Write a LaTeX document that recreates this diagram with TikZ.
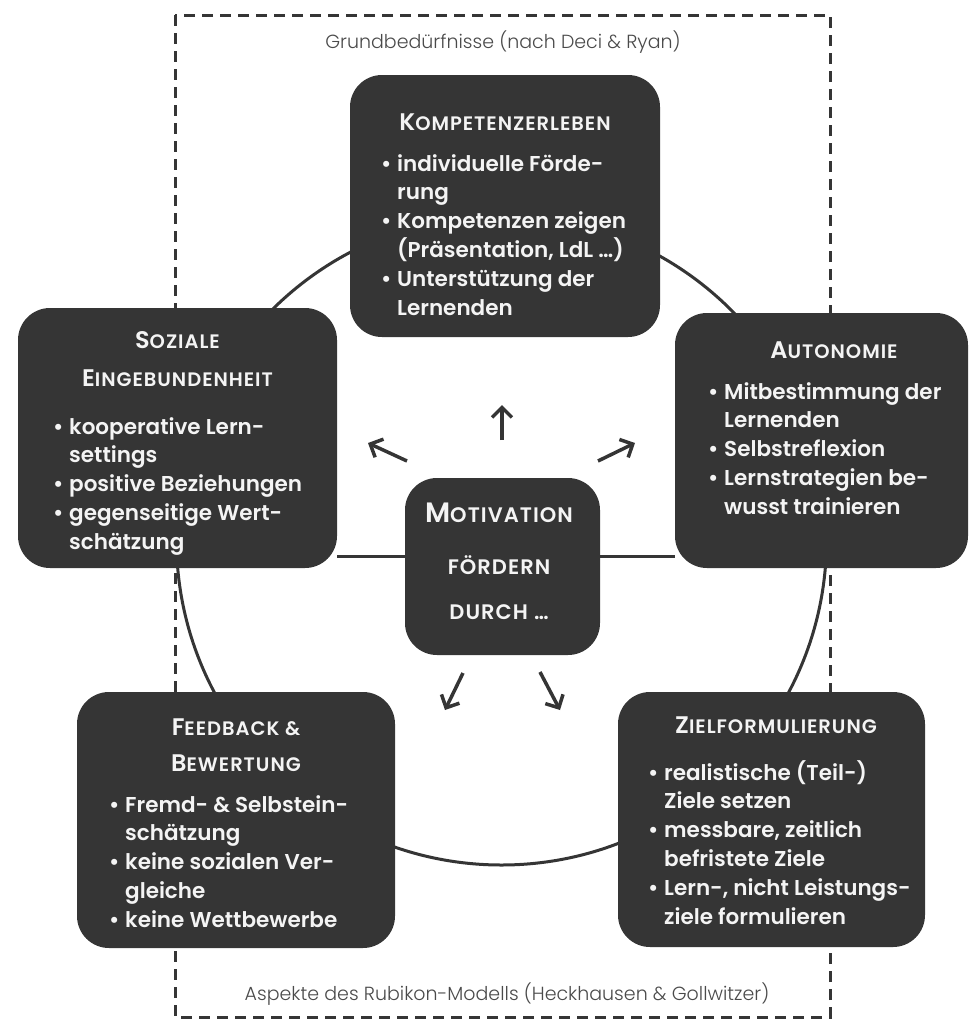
\documentclass[tikz,border=0pt]{standalone}
\usepackage{fontspec}
\setmainfont{Poppins}
\newfontfamily\cardfont{Poppins}[UprightFont=* SemiBold]
\newfontfamily\headfont{Poppins}[UprightFont=* SemiBold, LetterSpace=5]
\newfontfamily\capfont{Poppins}[UprightFont=* Light]
\usetikzlibrary{arrows.meta}
\definecolor{dunkel}{HTML}{353535}
\definecolor{hell}{HTML}{F4F4F4}
\definecolor{grau}{HTML}{4A4A4A}
% Kapitaelchen von Hand: grosser Anfangsbuchstabe, Rest klein
\newcommand{\kap}[2]{{\fontsize{24}{24}\selectfont #1}{\fontsize{19.5}{19.5}\selectfont\MakeUppercase{#2}}}
\newcommand{\Kap}[2]{{\fontsize{28}{28}\selectfont #1}{\fontsize{21}{21}\selectfont\MakeUppercase{#2}}}
\newcommand{\pkt}{\makebox[16pt][l]{\textbullet}}
\newcommand{\ein}{\hspace*{16pt}}
\tikzset{
  karte/.style={fill=dunkel, rounded corners=32pt, inner sep=0pt},
  titel/.style={text=hell, font=\headfont, inner sep=0pt},
  liste/.style={text=hell, font=\cardfont\fontsize{21.5}{28.8}\selectfont, inner sep=0pt, align=left, anchor=north west},
  linie/.style={draw=dunkel, line width=3pt},
  pfeil/.style={draw=dunkel, line width=3.5pt, -{Straight Barb[length=10pt,width=20pt]}},
  notiz/.style={text=grau, font=\capfont\fontsize{19}{19}\selectfont, inner sep=0pt}
}
\begin{document}
\begin{tikzpicture}[x=1pt,y=-1pt]
  \useasboundingbox (0,0) rectangle (973,1026);
  % Rahmen und Kreis
  \draw[linie, dash pattern=on 11pt off 7pt] (175,15) rectangle (830,1017);
  \draw[linie] (501.5,540) circle[radius=325pt];
  \coordinate (mitte-l) at (337,556);
  \coordinate (mitte-r) at (675,556);
  \draw[linie] (mitte-l) -- (mitte-r);
  \node[notiz] (grund) at (503,42) {Grundbedürfnisse (nach Deci \& Ryan)};
  \node[notiz] (rubikon) at (507,994) {Aspekte des Rubikon-Modells (Heckhausen \& Gollwitzer)};

  % Karten
  \node[karte, minimum width=310pt, minimum height=262pt] (kompetenz) at (505,206) {};
  \node[karte, minimum width=319pt, minimum height=260pt] (soziale) at (177.5,438) {};
  \node[karte, minimum width=293pt, minimum height=255pt] (autonomie) at (821.5,440.5) {};
  \node[karte, minimum width=195pt, minimum height=177pt] (motivation) at (502.5,566.5) {};
  \node[karte, minimum width=318pt, minimum height=256pt] (feedback) at (236,820) {};
  \node[karte, minimum width=307pt, minimum height=255pt] (ziel) at (771.5,819.5) {};

  % Titel
  \node[titel] (kompetenz-t) at (505,122) {\kap{K}{ompetenzerleben}};
  \node[titel] (soziale-t1) at (177.5,340) {\kap{S}{oziale}};
  \node[titel] (soziale-t2) at (177.5,378) {\kap{E}{ingebundenheit}};
  \node[titel] (autonomie-t) at (834,350) {\kap{A}{utonomie}};
  \node[titel] (motivation-t1) at (499,513) {\Kap{M}{otivation}};
  \node[titel] (motivation-t2) at (499,565) {\Kap{}{fördern}};
  \node[titel] (motivation-t3) at (499,612) {\Kap{}{durch …}};
  \node[titel] (feedback-t1) at (236,727) {\kap{F}{eedback \&}};
  \node[titel] (feedback-t2) at (236,763) {\kap{B}{ewertung}};
  \node[titel] (ziel-t) at (776,725) {\kap{Z}{ielformulierung}};

  % Stichpunkte
  \node[liste] (kompetenz-l) at (381,154) {\pkt individuelle Förde-\\ \ein rung\\ \pkt Kompetenzen zeigen\\ \ein (Präsentation, LdL …)\\ \pkt Unterstützung der\\ \ein Lernenden};
  \node[liste] (soziale-l) at (53,417) {\pkt kooperative Lern-\\ \ein settings\\ \pkt positive Beziehungen\\ \pkt gegenseitige Wert-\\ \ein schätzung};
  \node[liste] (autonomie-l) at (708,382) {\pkt Mitbestimmung der\\ \ein Lernenden\\ \pkt Selbstreflexion\\ \pkt Lernstrategien be-\\ \ein wusst trainieren};
  \node[liste] (feedback-l) at (109,795) {\pkt Fremd- \& Selbstein-\\ \ein schätzung\\ \pkt keine sozialen Ver-\\ \ein gleiche\\ \pkt keine Wettbewerbe};
  \node[liste] (ziel-l) at (648,760) {\pkt realistische (Teil-)\\ \ein Ziele setzen\\ \pkt messbare, zeitlich\\ \ein befristete Ziele\\ \pkt Lern-, nicht Leistungs-\\ \ein ziele formulieren};

  % Pfeile
  \draw[pfeil] (502,440) -- (502,405);
  \draw[pfeil] (407,461) -- (368,443);
  \draw[pfeil] (598,461) -- (635,443);
  \draw[pfeil] (463,673) -- (445,710);
  \draw[pfeil] (540,672) -- (560,710);
\end{tikzpicture}
\end{document}
